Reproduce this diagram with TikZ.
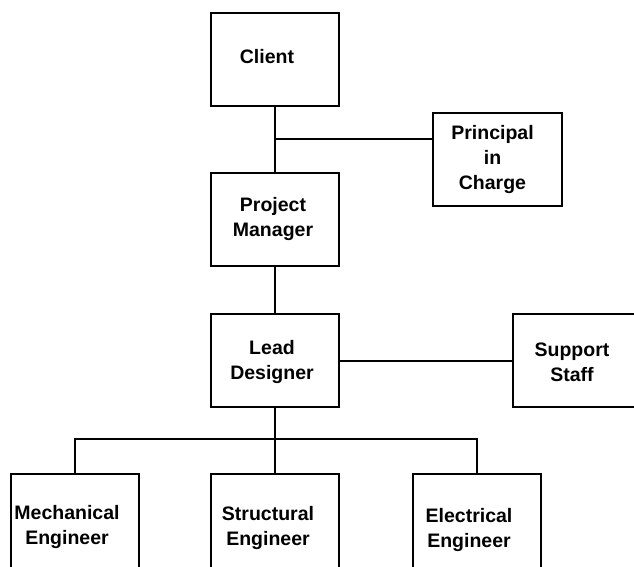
\documentclass[tikz,border=0pt]{standalone}
\usepackage{fontspec}
\setmainfont{Liberation Sans}
\begin{document}
\begin{tikzpicture}[x=1pt,y=-1pt,
  box/.style={draw, line width=2pt, minimum width=128pt, minimum height=93pt, inner sep=0pt},
  lowbox/.style={box, minimum height=100pt},
  lbl/.style={font=\bfseries\fontsize{19.5}{25}\selectfont, align=center},
  link/.style={line width=2pt}]
\useasboundingbox (0,0) rectangle (634,566);
\clip (0,0) rectangle (634,566);

% upper chain
\node[box, label={[lbl,xshift=-8pt,yshift=2pt]center:Client}] (client) at (275,59) {};
\node[box, minimum width=129pt, label={[lbl,xshift=-5pt]center:Principal\\in\\Charge}] (principal) at (497.5,159.5) {};
\node[box, label={[lbl,xshift=-2pt,yshift=1pt]center:Project\\Manager}] (pm) at (275,219.5) {};
\node[box, label={[lbl,xshift=-3pt,yshift=-1.5pt]center:Lead\\Designer}] (lead) at (275,360.5) {};
\node[box, label={[lbl,xshift=-5pt,yshift=-1.5pt]center:Support\\Staff}] (support) at (577,360.5) {};

% engineers (boxes run past the lower edge)
\node[lowbox, label={[lbl,xshift=-7.5pt,yshift=-2.5pt]center:Mechanical\\Engineer}] (mech) at (74.5,524) {};
\node[lowbox, label={[lbl,xshift=-7pt,yshift=-3.5pt]center:Structural\\Engineer}] (struct) at (275,524) {};
\node[lowbox, label={[lbl,xshift=-8pt,yshift=-5.5pt]center:Electrical\\Engineer}] (elec) at (477,524) {};

% connectors
\coordinate (tap) at (275,139);
\coordinate (bus) at (275,439);
\draw[link] (client.south) -- (pm.north);
\draw[link] (tap) -- (tap -| principal.west);
\draw[link] (pm.south) -- (lead.north);
\draw[link] (lead.east) -- (support.west);
\draw[link] (lead.south) -- (struct.north);
\draw[link] (mech.north) -- (mech.north |- bus) -- (elec.north |- bus) -- (elec.north);
\end{tikzpicture}
\end{document}
